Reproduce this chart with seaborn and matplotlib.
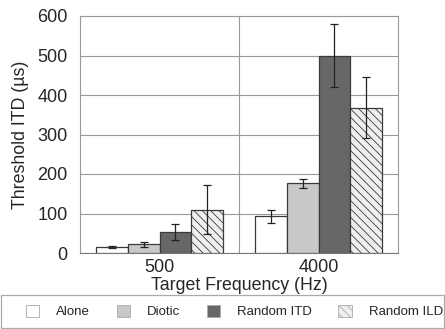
import matplotlib
matplotlib.use("Agg")
import matplotlib.pyplot as plt
import seaborn as sns
import pandas as pd

frequencies = ["500", "4000"]
conditions = ["Alone", "Diotic", "Random ITD", "Random ILD"]
threshold_500 = [15, 22, 53, 110]
threshold_4000 = [93, 176, 500, 368]
error_500 = [3, 6, 20, 61]
error_4000 = [16, 11, 81, 77]

colors = {"Alone": "#ffffff", "Diotic": "#c8c8c8",
          "Random ITD": "#676767", "Random ILD": "#efefef"}

rows = []
for freq, vals, errs in [("500", threshold_500, error_500), ("4000", threshold_4000, error_4000)]:
    for cond, v, e in zip(conditions, vals, errs):
        rows.append({"freq": freq, "cond": cond, "thr": v, "err": e})
df = pd.DataFrame(rows)

sns.set_theme(style="white")
plt.rcParams["font.family"] = ["Liberation Sans", "DejaVu Sans"]
plt.rcParams["hatch.color"] = "#8a8a8a"
plt.rcParams["hatch.linewidth"] = 0.6

fig = plt.figure(figsize=(4.45, 3.29), dpi=100)
ax = fig.add_axes([80 / 445, 1 - 253 / 329, 318 / 445, 237 / 329])

sns.barplot(data=df, x="freq", y="thr", hue="cond", order=frequencies,
            hue_order=conditions, palette=colors, width=0.8, ax=ax,
            edgecolor="#3a3a3a", linewidth=0.9, errorbar=None, legend=False,
            zorder=3)

for i, cond in enumerate(conditions):
    sub = df[df["cond"] == cond].set_index("freq").loc[frequencies]
    cont = ax.containers[i]
    xs = [b.get_x() + b.get_width() / 2 for b in cont]
    ax.errorbar(xs, sub["thr"], yerr=sub["err"], fmt="none", ecolor="#222222",
                elinewidth=0.9, capsize=3, capthick=0.9, zorder=4)
    if cond == "Random ILD":
        for b in cont:
            b.set_hatch("\\\\\\\\")

ax.set_ylim(0, 600)
ax.set_xlim(-0.5, 1.5)
ax.set_yticks(range(0, 601, 100))
ax.yaxis.grid(True, color="#999999", linewidth=0.8, zorder=0)
ax.axvline(0.5, color="#999999", linewidth=0.8, zorder=0)
ax.set_axisbelow(True)
for s in ax.spines.values():
    s.set_color("#999999")
    s.set_linewidth(0.8)
ax.spines["bottom"].set_color("#777777")
ax.tick_params(axis="y", length=0, labelsize=13, pad=9)
ax.tick_params(axis="x", length=0, labelsize=13, pad=4)
ax.set_xlabel("Target Frequency (Hz)", fontsize=12.8, labelpad=1)
ax.set_ylabel("Threshold ITD (µs)", fontsize=12.8, labelpad=6)

# legend frame across the full width
frame = plt.Rectangle((1 / 445, 1 / 329), 443 / 445, 33 / 329, transform=fig.transFigure,
                      facecolor="white", edgecolor="#aaaaaa", linewidth=0.9)
fig.patches.append(frame)

handles = []
for cond in conditions:
    h = plt.Rectangle((0, 0), 1, 1, facecolor=colors[cond], edgecolor="#aaaaaa",
                      linewidth=0.6, hatch="\\\\\\\\" if cond == "Random ILD" else None)
    handles.append(h)
leg = fig.legend(handles, conditions, loc="center left", ncol=4,
                 bbox_to_anchor=(26 / 445, 2 / 329, 417 / 445, 31 / 329), mode="expand",
                 fontsize=9.5, frameon=False,
                 handlelength=1.0, handleheight=1.0, handletextpad=1.3,
                 borderaxespad=0.0, borderpad=0.0, columnspacing=1.0)

fig.savefig("out.png", dpi=100)
